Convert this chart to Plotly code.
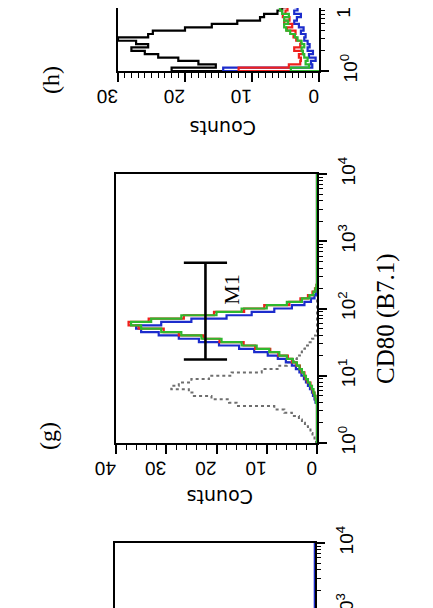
import plotly.graph_objects as go

# ---------------- data (counts per log-fluorescence channel) ----------------
# channel positions in log10 units
g_logv = [round(0.05 * i, 2) for i in range(51)]     # 10^0 .. 10^2.5, then zero to 10^4
h_logv = [round(0.05 * i, 2) for i in range(21)]     # 10^0 .. 10^1

# panel (g): CD80 (B7.1)
g_iso = [0, 0.2, 0.5, 0.9, 1.3, 1.8, 2.4, 3.0, 3.6, 5.0, 6.5, 8.5, 16, 17.5, 21, 24.5, 25.5,
         29, 27.5, 25, 21.5, 17, 11, 7.5, 6, 4.6, 4.0, 3.4, 3.0, 2.4, 1.8, 1.0, 0.4, 0.1,
         0, 0, 0, 0, 0, 0, 0, 0, 0, 0, 0, 0, 0, 0, 0, 0, 0]
g_blue = [0, 0, 0, 0, 0, 0, 0, 0, 0, 0, 0, 0, 0, 0.3, 0.5, 0.8, 1.0, 1.4, 1.8, 2.2, 2.6,
          3.1, 3.5, 4.2, 5.0, 6.2, 7.8, 9.8, 12.5, 15.5, 19.5, 23.5, 27.5, 31.5, 35, 36,
          31, 25, 18, 13, 8.5, 5, 2.5, 1.2, 0.5, 0.2, 0, 0, 0, 0, 0]
g_red = [0, 0, 0, 0, 0, 0, 0, 0, 0, 0, 0, 0, 0, 0.1, 0.3, 0.5, 0.8, 1.1, 1.3, 1.9, 2.3,
         2.5, 3.1, 3.4, 4.1, 5.0, 5.8, 7.7, 9.3, 12.3, 14.6, 19.4, 22.6, 27.5, 30.5, 35.5,
         37.5, 33.5, 26.5, 20.5, 14.5, 10.5, 5.5, 3.3, 1.8, 0.9, 0.4, 0.1, 0, 0, 0]
g_green = [0, 0, 0, 0, 0, 0, 0, 0, 0, 0, 0, 0, 0, 0.2, 0.3, 0.5, 0.7, 1.0, 1.4, 1.8, 2.2,
           2.6, 3.0, 3.5, 4.0, 4.8, 6.0, 7.5, 9.5, 12, 15, 19, 23, 27, 31, 35,
           37, 33, 27, 20, 15, 10, 6, 3, 1.5, 0.7, 0.3, 0.1, 0, 0, 0]
g_m1 = {"lo": 17.4, "hi": 480, "level": 22.2}

# panel (h)
h_black = [14, 22, 15.4, 18, 21, 24, 26, 28, 25.5, 27.3, 30, 25.5, 24.8, 20, 16, 12.2,
           8.8, 8.2, 6.2, 5.5, 5]
h_blue = [0, 14.3, 1.0, 1.2, 0.5, 1.5, 0.9, 1.7, 1.4, 1.7, 2.2, 2.0, 2.7, 2.3, 3.0, 3.7,
          3.3, 2.7, 3.7, 3.2, 3.5]
h_red = [0, 12, 4.5, 2.8, 2.7, 3.0, 2.4, 3.7, 2.8, 2.7, 3.4, 3.8, 3.5, 4.8, 4.0, 5.2,
         4.4, 5.4, 5.0, 4.7, 5.5]
h_green = [0, 4.2, 1.5, 2.0, 1.7, 2.2, 2.4, 2.6, 2.2, 2.6, 3.2, 3.6, 4.3, 4.9, 5.2, 4.6,
           5.2, 4.5, 5.5, 5.8, 6.0]

# lower panel (only its top edge is visible)
i_logv = [2.5, 4.0]
i_blue = [0, 0]
i_m1 = {"lo": 17.4, "hi": 850, "level": 22.2}

count_ticks_g = [0, 10, 20, 30, 40]
count_ticks_h = [0, 10, 20, 30]
decade_ticks = [1, 10, 100, 1000, 10000]
decade_text = ["10<sup>0</sup>", "10<sup>1</sup>", "10<sup>2</sup>", "10<sup>3</sup>", "10<sup>4</sup>"]

# ---------------- styling ----------------
W, H = 433, 608
C_RED, C_BLUE, C_GREEN, C_ISO = "#f0201c", "#1c2ccc", "#2eb82e", "#6e6e6e"
LW = 2.2
SANS = "Liberation Sans, Arial, sans-serif"
SERIF = "Liberation Serif, Times New Roman, serif"


def fx(p):
    return p / W


def fy(p):
    return 1 - p / H


PXDEC = 67.25  # pixels per decade

fig = go.Figure()


def hist(x, y, color, xa, ya, dash="solid", width=LW):
    fig.add_trace(go.Scatter(x=x, y=y, mode="lines", line=dict(color=color, width=width, dash=dash, shape="hv"),
                             xaxis=xa, yaxis=ya, showlegend=False, hoverinfo="skip"))


def marker(m, xa, ya, half=4.3):
    lv, lo, hi = m["level"], m["lo"], m["hi"]
    fig.add_trace(go.Scatter(x=[lv, lv, None, lv - half, lv + half, None, lv - half, lv + half],
                             y=[lo, hi, None, lo, lo, None, hi, hi], mode="lines",
                             line=dict(color="black", width=2.6), xaxis=xa, yaxis=ya,
                             showlegend=False, hoverinfo="skip"))


# panel h
hy = [10 ** v for v in h_logv]
hist(h_black, hy, "black", "x", "y")
hist(h_blue, hy, C_BLUE, "x", "y")
hist(h_red, hy, C_RED, "x", "y")
hist(h_green, hy, C_GREEN, "x", "y")

# panel g
gy = [10 ** v for v in g_logv] + [10 ** 4]
hist(g_iso + [0], gy, C_ISO, "x2", "y2", dash="dot", width=2)
hist(g_blue + [0], gy, C_BLUE, "x2", "y2")
hist(g_red + [0], gy, C_RED, "x2", "y2")
hist(g_green + [0], gy, C_GREEN, "x2", "y2")
marker(g_m1, "x2", "y2")

# lower panel
hist(i_blue, [10 ** v for v in i_logv], C_BLUE, "x3", "y3", width=2.6)
marker(i_m1, "x3", "y3")

minor_log = [k * 10 ** d for d in range(4) for k in range(2, 10)]

tickfont = dict(family=SANS, size=19, color="black")


def count_axis(rng, ticks, minor_dtick, domain, side="bottom", mirror=False, show=True):
    return dict(domain=domain, range=rng, side=side, showline=True, linecolor="black", linewidth=2,
                mirror=mirror, showgrid=False, zeroline=False, automargin=False,
                tickmode="array", tickvals=ticks if show else [], ticktext=[str(t) for t in ticks] if show else [],
                ticks="outside" if show else "", ticklen=9, tickwidth=1.6, tickcolor="black",
                tickangle=179.5, tickfont=tickfont, ticklabelstandoff=4, showticklabels=show,
                minor=dict(dtick=minor_dtick, tick0=0, ticks="outside" if show else "", ticklen=5,
                           tickwidth=1.2, tickcolor="black"),
                fixedrange=True)


def log_axis(rng, domain, anchor):
    return dict(domain=domain, type="log", range=rng, side="right", anchor=anchor,
                showline=True, linecolor="black", linewidth=2, mirror=True, automargin=False,
                showgrid=False, zeroline=False, tickmode="array", tickvals=decade_ticks,
                ticktext=decade_text, ticks="outside", ticklen=8, tickwidth=1.6, tickcolor="black",
                tickangle=-90, tickfont=dict(family=SANS, size=19, color="black"), ticklabelstandoff=5,
                ticklabeloverflow="allow",
                minor=dict(tickmode="array", tickvals=minor_log, ticks="outside", ticklen=4,
                           tickwidth=1.1, tickcolor="black"),
                fixedrange=True)


fig.update_layout(
    template="none",
    width=W, height=H, margin=dict(l=0, r=0, t=0, b=0, autoexpand=False),
    paper_bgcolor="white", plot_bgcolor="white", showlegend=False,
    xaxis=count_axis([30, 0], count_ticks_h, 1, [fx(110), fx(311)]),
    yaxis=log_axis([0, 63 / PXDEC], [fy(63), 1], "x"),
    xaxis2=count_axis([40, 0], count_ticks_g, 2, [fx(108), fx(309)], mirror=True),
    yaxis2=log_axis([0, 4], [fy(435), fy(166)], "x2"),
    xaxis3=count_axis([40, 0], count_ticks_g, 2, [fx(107), fx(307)], side="top", show=False),
    yaxis3=log_axis([4 - 73 / PXDEC, 4], [0, fy(535)], "x3"),
)
fig.update_layout(xaxis=dict(anchor="y"), xaxis2=dict(anchor="y2"), xaxis3=dict(anchor="y3"))

ann = []


def text(t, x, y, angle, family, size, xref="paper", yref="paper"):
    ann.append(dict(text=t, x=x, y=y, xref=xref, yref=yref, showarrow=False, textangle=angle,
                    font=dict(family=family, size=size, color="black"), xanchor="center", yanchor="middle"))


text("(h)", fx(43), fy(72), -90, SERIF, 24)
text("(g)", fx(40), fy(428), -90, SERIF, 24)
text("Counts", fx(215), fy(120), 180, "DejaVu Sans, sans-serif", 19)
text("Counts", fx(212), fy(489), 180, "DejaVu Sans, sans-serif", 19)
text("CD80 (B7.1)", fx(378), fy(311), -90, SERIF, 25)
text("M1", 16.9, 2.28, -90, SERIF, 22, xref="x2", yref="y2")
# upper decade label of panel (h), which sits just past the top edge of the page
text("10<sup>1</sup>", fx(334), fy(63 - PXDEC), -90, SANS, 19)
fig.update_layout(annotations=ann)

fig.write_html("out.html")
